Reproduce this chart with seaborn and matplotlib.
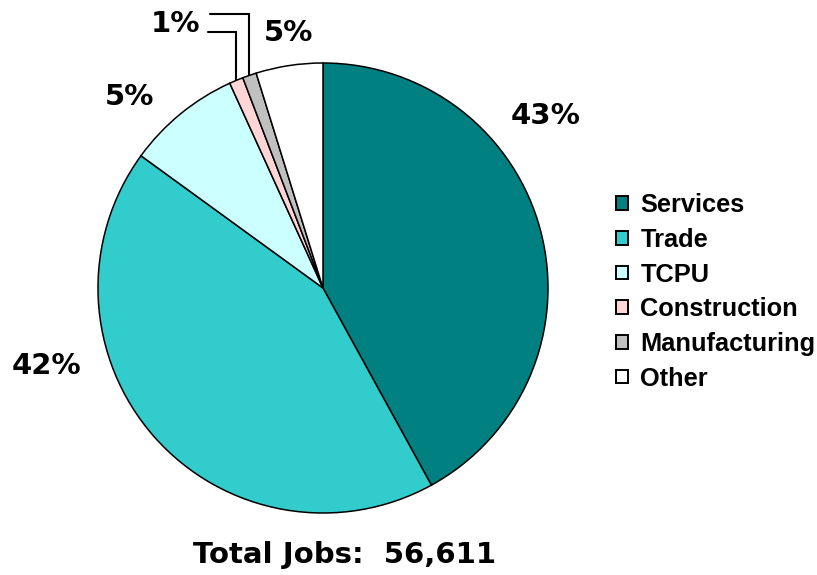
import numpy as np
import matplotlib
matplotlib.use("Agg")
import matplotlib.pyplot as plt
import seaborn as sns

# ---- data ----
categories = ["Services", "Trade", "TCPU", "Construction", "Manufacturing", "Other"]
values = [42.0, 43.0, 8.2, 1.0, 1.0, 4.8]
pct_labels = ["43%", "42%", "5%", "1%", None, "5%"]
total_text = "Total Jobs:  56,611"
colors = ["#008080", "#33CCCC", "#CCFFFF", "#FFD5D5", "#C0C0C0", "#FFFFFF"]

# ---- layout (pixel space, y up) ----
W, H = 817, 575
center = (323, 287)
radius = 225
label_pos = {0: (546, 459), 1: (47, 209), 2: (130, 478), 3: (176, 551), 5: (289, 542)}

sns.set_theme(style="white")
plt.rcParams["font.family"] = ["DejaVu Sans"]
plt.rcParams["text.color"] = "black"

fig = plt.figure(figsize=(W / 100, H / 100), dpi=100)
ax = fig.add_axes([0, 0, 1, 1])
ax.axis("off")

pal = sns.color_palette(colors)
wedges, _ = ax.pie(values, colors=pal, startangle=90, counterclock=False,
                   center=center, radius=radius,
                   wedgeprops=dict(edgecolor="black", linewidth=1.1))
ax.set_xlim(0, W)
ax.set_ylim(0, H)
ax.set_aspect("equal")

for i, lab in enumerate(pct_labels):
    if lab is None:
        continue
    x, y = label_pos[i]
    ax.text(x, y, lab, ha="center", va="center", fontsize=21,
            fontweight="bold", color="black")

# leader lines from "1%" to the two small wedges
elbow = [(208, 543), (210, 561)]
for k, idx in enumerate([3, 4]):
    w = wedges[idx]
    mid = np.deg2rad((w.theta1 + w.theta2) / 2)
    ex = center[0] + radius * np.cos(mid)
    ey = center[1] + radius * np.sin(mid)
    sx, sy = elbow[k]
    ax.plot([sx, ex, ex], [sy, sy, ey], color="black", lw=1.5,
            solid_joinstyle="miter")

ax.text(345, 20, total_text, ha="center", va="center", fontsize=21,
        fontweight="bold", color="black")

handles = [plt.Rectangle((0, 0), 1, 1, facecolor=c, edgecolor="black", lw=1.4) for c in colors]
leg = ax.legend(handles, categories, loc="upper left", bbox_to_anchor=(606 / W, 1 - 183 / H),
                frameon=False, handlelength=0.45, handleheight=0.45, handletextpad=0.5,
                labelspacing=0.42, borderaxespad=0, labelcolor="black",
                prop=dict(family="Liberation Sans", weight="bold", size=18.3))

fig.savefig("out.png", dpi=100)
